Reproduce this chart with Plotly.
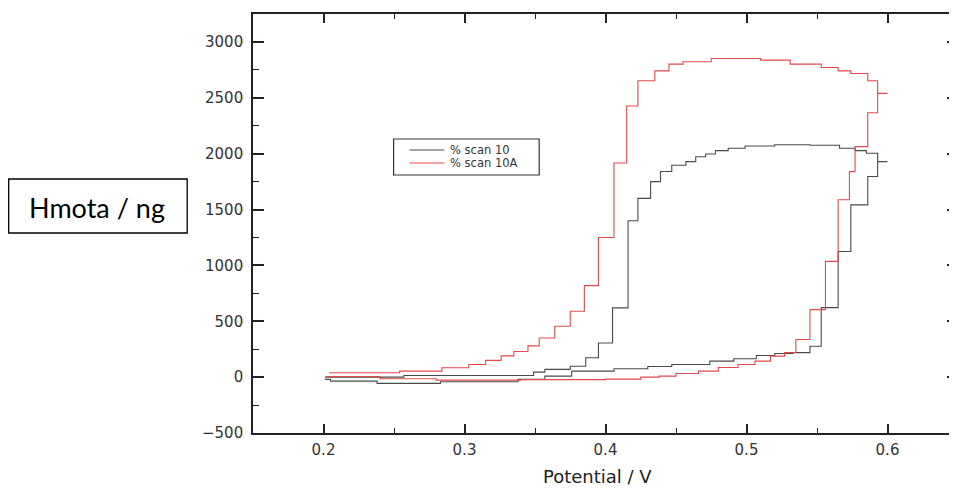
import plotly.graph_objects as go

# scan 10 (black) - lower branch, left to right (potential V, mass ng)
black_low_v = [0.201, 0.205, 0.238, 0.283, 0.338, 0.357, 0.376, 0.406, 0.430, 0.447, 0.474,
               0.491, 0.507, 0.520, 0.533, 0.545, 0.553, 0.565, 0.574, 0.586, 0.593, 0.600]
black_low_m = [-20, -36, -56, -41, -20, 9, 54, 75, 95, 113, 143,
               164, 194, 211, 219, 277, 622, 1125, 1542, 1795, 1929, 1929]

# scan 10 (black) - upper branch
black_up_v = [0.201, 0.257, 0.349, 0.357, 0.375, 0.386, 0.395, 0.405, 0.416, 0.423, 0.432,
              0.439, 0.447, 0.457, 0.464, 0.471, 0.478, 0.487, 0.499, 0.520, 0.545, 0.566,
              0.577, 0.585, 0.593]
black_up_m = [0, 15, 45, 69, 98, 173, 305, 620, 1400, 1600, 1750,
              1840, 1897, 1929, 1973, 1997, 2027, 2048, 2069, 2080, 2075, 2048,
              2027, 2004, 1929]

# scan 10A (red) - lower branch
red_low_v = [0.202, 0.240, 0.280, 0.340, 0.400, 0.425, 0.438, 0.450, 0.466, 0.480, 0.494,
             0.506, 0.517, 0.527, 0.535, 0.545, 0.556, 0.565, 0.573, 0.577, 0.586, 0.593, 0.600]
red_low_m = [5, -15, -27, -22, -18, 0, 9, 33, 54, 86, 113,
             143, 188, 220, 337, 604, 1036, 1587, 1839, 2063, 2366, 2540, 2540]

# scan 10A (red) - upper branch
red_up_v = [0.204, 0.254, 0.284, 0.303, 0.315, 0.326, 0.335, 0.345, 0.353, 0.364, 0.375,
            0.385, 0.395, 0.406, 0.415, 0.423, 0.435, 0.445, 0.455, 0.475, 0.510, 0.531,
            0.553, 0.565, 0.574, 0.586, 0.593]
red_up_m = [39, 54, 84, 113, 150, 190, 230, 280, 350, 455, 590,
            819, 1250, 1917, 2426, 2652, 2741, 2801, 2822, 2852, 2837, 2801,
            2771, 2741, 2718, 2652, 2540]

x_ticks = [0.2, 0.3, 0.4, 0.5, 0.6]
y_ticks = [-500, 0, 500, 1000, 1500, 2000, 2500, 3000]

BLACK = "#4a4a4a"
RED = "#e4484c"
TICK_FONT = dict(family="DejaVu Sans", size=15, color="#333")

fig = go.Figure()

series = [
    ("% scan 10", BLACK, black_low_v, black_low_m, black_up_v, black_up_m),
    ("% scan 10A", RED, red_low_v, red_low_m, red_up_v, red_up_m),
]
for name, color, lv, lm, uv, um in series:
    for xs, ys in [(lv, lm), (uv, um)]:
        fig.add_trace(go.Scatter(x=xs, y=ys, mode="lines", name=name, legendgroup=name,
                                 showlegend=False,
                                 line=dict(color=color, width=1.1, shape="hv")))

axis_common = dict(
    showgrid=False, zeroline=False,
    showline=True, linecolor="#222", linewidth=1.6, mirror="ticks",
    ticks="inside", tickcolor="#222", tickwidth=1.6,
    tickfont=TICK_FONT,
)

fig.update_xaxes(
    range=[0.15, 0.65], tickvals=x_ticks, ticklen=9,
    minor=dict(ticks="inside", dtick=0.05, tick0=0.15, ticklen=5, tickcolor="#222", tickwidth=1.4),
    ticklabelstandoff=2,
    **axis_common,
)
fig.update_yaxes(
    range=[-500, 3250], tickvals=y_ticks, ticklen=11,
    minor=dict(ticks="inside", dtick=250, tick0=-500, ticklen=6, tickcolor="#222", tickwidth=1.4),
    ticklabelstandoff=5,
    **axis_common,
)

# window pixel -> paper helpers (plot area spans x 253..960, y 14..433 of the window)
def px(x):
    return (x - 253) / 707

def py(y):
    return (433 - y) / 419

# x-axis title, sitting a little left of centre as in the source
fig.add_annotation(text="Potential / V", xref="paper", yref="paper",
                   x=px(598), y=py(476), xanchor="center", yanchor="middle",
                   showarrow=False, font=dict(family="DejaVu Sans", size=18, color="#222"))

# boxed y-axis label
fig.add_shape(type="rect", xref="paper", yref="paper",
              x0=px(8), x1=px(187), y0=py(233), y1=py(179),
              line=dict(color="black", width=1.3), fillcolor="white")
fig.add_annotation(text="Hmota / ng", xref="paper", yref="paper",
                   x=px(97), y=py(207), xanchor="center", yanchor="middle",
                   showarrow=False, font=dict(family="Lato", size=27, color="black"))

# legend box drawn inside the plot
fig.add_shape(type="rect", xref="paper", yref="paper",
              x0=px(394), x1=px(540), y0=py(175), y1=py(139),
              line=dict(color="#333", width=1.2), fillcolor="white")
for (name, color, *_), row_y in zip(series, [150, 163]):
    fig.add_shape(type="line", xref="paper", yref="paper",
                  x0=px(410), x1=px(445), y0=py(row_y), y1=py(row_y),
                  line=dict(color=color, width=1))
    fig.add_annotation(text=name, xref="paper", yref="paper",
                       x=px(449), y=py(row_y), xanchor="left", yanchor="middle",
                       showarrow=False, font=dict(family="DejaVu Sans", size=11.5, color="#333"))

# the page body adds an 8px margin; the frame's right edge runs just past the window
fig.update_layout(
    width=952, height=482,
    margin=dict(l=245, r=0, t=6, b=57),
    paper_bgcolor="white", plot_bgcolor="white",
    showlegend=False,
)

fig.write_html("out.html")
